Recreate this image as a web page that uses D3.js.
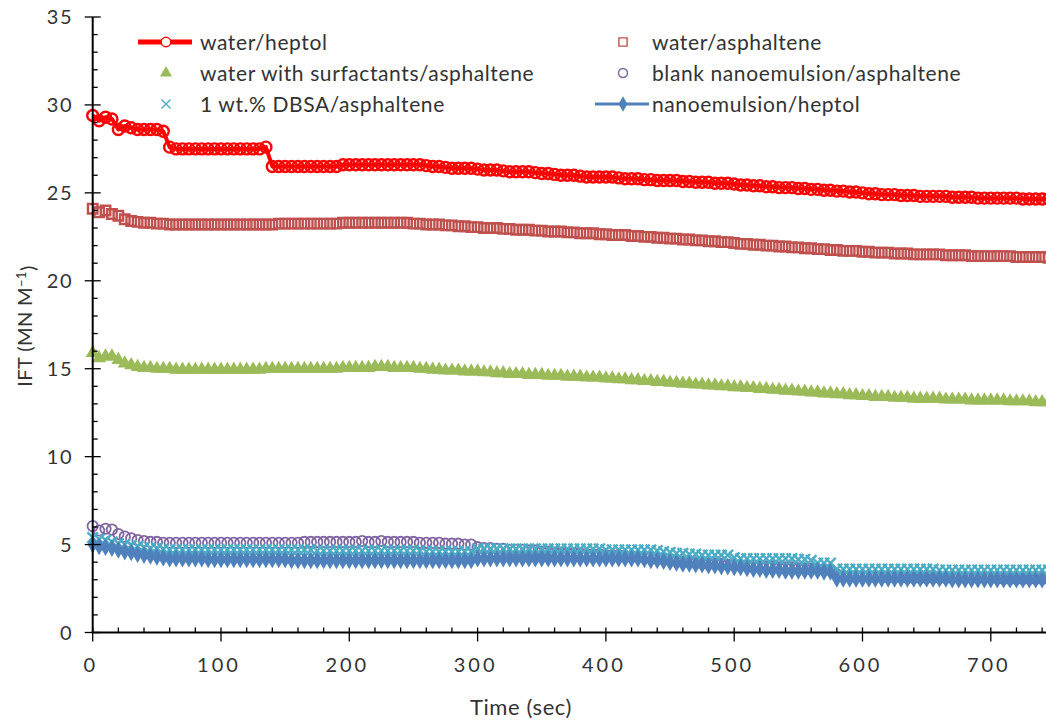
<!DOCTYPE html>
<html>
<head>
<meta charset="utf-8">
<script src="https://cdn.jsdelivr.net/npm/d3@7"></script>
<style>
  html, body { margin: 0; padding: 0; background: #fff; }
  svg { display: block; }
  text { font-family: Lato, "Open Sans", sans-serif; fill: #333; }
</style>
</head>
<body>
<svg id="chart" width="1046" height="721"></svg>
<script>
// ---------- DATA ----------
const time = [
  0,5,10,15,20,25,30,35,40,45,
  50,55,60,65,70,75,80,85,90,95,
  100,105,110,115,120,125,130,135,140,145,
  150,155,160,165,170,175,180,185,190,195,
  200,205,210,215,220,225,230,235,240,245,
  250,255,260,265,270,275,280,285,290,295,
  300,305,310,315,320,325,330,335,340,345,
  350,355,360,365,370,375,380,385,390,395,
  400,405,410,415,420,425,430,435,440,445,
  450,455,460,465,470,475,480,485,490,495,
  500,505,510,515,520,525,530,535,540,545,
  550,555,560,565,570,575,580,585,590,595,
  600,605,610,615,620,625,630,635,640,645,
  650,655,660,665,670,675,680,685,690,695,
  700,705,710,715,720,725,730,735,740,745
];

const waterHeptol = [
  29.4,29.1,29.3,29.2,28.6,28.8,28.7,28.6,28.6,28.6,
  28.6,28.5,27.6,27.5,27.5,27.5,27.5,27.5,27.5,27.5,
  27.5,27.5,27.5,27.5,27.5,27.5,27.5,27.6,26.5,26.5,
  26.5,26.5,26.5,26.5,26.5,26.5,26.5,26.5,26.5,26.6,
  26.6,26.6,26.6,26.6,26.6,26.6,26.6,26.6,26.6,26.6,
  26.6,26.6,26.55,26.5,26.5,26.45,26.4,26.4,26.4,26.4,
  26.35,26.3,26.3,26.3,26.25,26.2,26.2,26.2,26.2,26.15,
  26.1,26.1,26.05,26.0,26.0,26.0,25.95,25.9,25.9,25.9,
  25.9,25.9,25.85,25.8,25.8,25.8,25.75,25.75,25.7,25.7,
  25.7,25.7,25.65,25.65,25.6,25.6,25.6,25.55,25.55,25.55,
  25.5,25.45,25.45,25.4,25.4,25.35,25.35,25.3,25.3,25.3,
  25.25,25.25,25.2,25.2,25.15,25.15,25.1,25.1,25.05,25.05,
  25.0,24.95,24.95,24.9,24.9,24.9,24.85,24.85,24.85,24.8,
  24.8,24.8,24.8,24.8,24.75,24.75,24.75,24.75,24.7,24.7,
  24.7,24.7,24.7,24.7,24.7,24.65,24.65,24.65,24.65,24.65
];

const waterAsphaltene = [
  24.1,23.9,24.0,23.8,23.7,23.5,23.4,23.35,23.3,23.3,
  23.25,23.25,23.2,23.2,23.2,23.2,23.2,23.2,23.2,23.2,
  23.2,23.2,23.2,23.2,23.2,23.2,23.2,23.2,23.2,23.25,
  23.25,23.25,23.25,23.25,23.25,23.25,23.25,23.25,23.25,23.3,
  23.3,23.3,23.3,23.3,23.3,23.3,23.3,23.3,23.3,23.3,
  23.25,23.25,23.2,23.2,23.2,23.15,23.15,23.1,23.1,23.05,
  23.05,23.0,23.0,23.0,22.95,22.95,22.9,22.9,22.9,22.85,
  22.85,22.8,22.8,22.8,22.75,22.75,22.7,22.7,22.7,22.65,
  22.65,22.6,22.6,22.6,22.55,22.55,22.5,22.5,22.45,22.45,
  22.4,22.4,22.35,22.35,22.3,22.3,22.25,22.25,22.2,22.2,
  22.15,22.1,22.1,22.05,22.05,22.0,22.0,21.95,21.95,21.9,
  21.9,21.85,21.85,21.8,21.8,21.75,21.75,21.7,21.7,21.7,
  21.65,21.65,21.6,21.6,21.6,21.55,21.55,21.55,21.5,21.5,
  21.5,21.5,21.5,21.45,21.45,21.45,21.45,21.4,21.4,21.4,
  21.4,21.4,21.4,21.4,21.35,21.35,21.35,21.35,21.35,21.3
];

const surfactantAsphaltene = [
  15.9,15.6,15.7,15.7,15.5,15.3,15.2,15.1,15.05,15.05,
  15.0,15.0,15.0,14.95,14.95,14.95,14.95,14.95,14.95,14.95,
  14.95,14.95,14.95,14.95,14.95,14.95,14.95,15.0,15.0,15.0,
  15.0,15.0,15.0,15.0,15.0,15.0,15.0,15.0,15.0,15.05,
  15.05,15.05,15.05,15.05,15.1,15.1,15.1,15.05,15.05,15.05,
  15.05,15.0,15.0,14.95,14.95,14.9,14.9,14.9,14.85,14.85,
  14.85,14.8,14.8,14.75,14.75,14.7,14.7,14.7,14.65,14.65,
  14.65,14.6,14.6,14.6,14.55,14.55,14.55,14.5,14.5,14.5,
  14.45,14.45,14.4,14.4,14.35,14.35,14.3,14.3,14.25,14.25,
  14.2,14.2,14.15,14.15,14.1,14.1,14.05,14.05,14.0,14.0,
  13.95,13.95,13.9,13.9,13.85,13.85,13.8,13.8,13.75,13.75,
  13.7,13.7,13.65,13.65,13.6,13.6,13.55,13.55,13.5,13.5,
  13.45,13.45,13.4,13.4,13.4,13.35,13.35,13.35,13.3,13.3,
  13.3,13.3,13.3,13.25,13.25,13.25,13.25,13.2,13.2,13.2,
  13.2,13.2,13.2,13.15,13.15,13.15,13.15,13.1,13.1,13.1
];

const blankNanoAsphaltene = [
  6.05,5.8,5.9,5.85,5.6,5.45,5.35,5.25,5.2,5.15,
  5.15,5.1,5.1,5.1,5.1,5.1,5.1,5.1,5.1,5.1,
  5.1,5.1,5.1,5.1,5.1,5.1,5.1,5.1,5.1,5.1,
  5.1,5.1,5.1,5.15,5.15,5.15,5.15,5.15,5.15,5.15,
  5.15,5.15,5.2,5.15,5.15,5.2,5.15,5.15,5.15,5.15,
  5.15,5.1,5.1,5.1,5.1,5.05,5.05,5.05,5.0,5.0,
  4.85,4.8,4.8,4.75,4.75,4.7,4.7,4.7,4.65,4.65,
  4.6,4.6,4.55,4.55,4.5,4.5,4.5,4.45,4.45,4.45,
  4.4,4.4,4.4,4.35,4.35,4.3,4.3,4.25,4.2,4.15,
  4.1,4.05,4.0,4.0,3.95,3.95,3.9,3.9,3.9,3.85,
  3.85,3.8,3.8,3.8,3.75,3.75,3.75,3.7,3.7,3.7,
  3.65,3.65,3.6,3.6,3.6,3.55,3.3,3.2,3.2,3.2,
  3.2,3.2,3.15,3.15,3.15,3.15,3.15,3.1,3.1,3.1,
  3.1,3.1,3.1,3.1,3.1,3.1,3.1,3.1,3.1,3.1,
  3.1,3.1,3.05,3.05,3.05,3.05,3.05,3.05,3.05,3.05
];

const dbsaAsphaltene = [
  5.4,5.3,5.25,5.15,5.05,5.0,4.95,4.9,4.85,4.8,
  4.8,4.75,4.7,4.7,4.7,4.7,4.7,4.7,4.7,4.7,
  4.7,4.7,4.7,4.7,4.7,4.7,4.7,4.7,4.7,4.7,
  4.7,4.7,4.7,4.7,4.7,4.65,4.65,4.65,4.65,4.65,
  4.65,4.65,4.65,4.65,4.65,4.65,4.65,4.65,4.65,4.65,
  4.65,4.65,4.6,4.6,4.6,4.6,4.6,4.6,4.6,4.6,
  4.75,4.75,4.75,4.75,4.75,4.75,4.75,4.75,4.75,4.75,
  4.75,4.75,4.75,4.75,4.75,4.75,4.75,4.75,4.75,4.75,
  4.7,4.7,4.7,4.7,4.7,4.7,4.7,4.7,4.65,4.6,
  4.55,4.5,4.5,4.45,4.45,4.4,4.4,4.4,4.4,4.4,
  4.25,4.2,4.2,4.2,4.2,4.2,4.2,4.2,4.2,4.2,
  4.15,4.15,4.1,3.95,3.95,3.95,3.6,3.6,3.6,3.6,
  3.6,3.6,3.6,3.6,3.6,3.6,3.6,3.6,3.6,3.6,
  3.6,3.6,3.55,3.55,3.55,3.55,3.55,3.55,3.55,3.55,
  3.55,3.55,3.55,3.55,3.55,3.55,3.55,3.55,3.55,3.55
];

const nanoHeptol = [
  5.0,4.9,4.85,4.8,4.7,4.6,4.55,4.45,4.4,4.35,
  4.3,4.25,4.2,4.2,4.2,4.2,4.2,4.2,4.15,4.15,
  4.15,4.15,4.15,4.15,4.15,4.15,4.15,4.15,4.15,4.15,
  4.15,4.1,4.1,4.1,4.1,4.1,4.1,4.1,4.1,4.1,
  4.1,4.1,4.1,4.1,4.1,4.1,4.1,4.1,4.1,4.1,
  4.1,4.1,4.1,4.1,4.1,4.1,4.1,4.1,4.1,4.1,
  4.2,4.2,4.2,4.2,4.2,4.2,4.2,4.2,4.2,4.2,
  4.2,4.2,4.2,4.2,4.2,4.2,4.2,4.2,4.2,4.2,
  4.2,4.2,4.2,4.2,4.2,4.2,4.15,4.1,4.1,4.05,
  4.0,3.95,3.9,3.9,3.85,3.85,3.8,3.8,3.75,3.75,
  3.7,3.7,3.65,3.6,3.6,3.55,3.55,3.55,3.5,3.5,
  3.5,3.5,3.5,3.5,3.45,3.45,3.05,3.05,3.05,3.05,
  3.05,3.05,3.05,3.05,3.05,3.05,3.05,3.05,3.05,3.05,
  3.05,3.05,3.05,3.05,3.0,3.0,3.0,3.0,3.0,3.0,
  3.0,3.0,3.0,3.0,3.0,3.0,3.0,3.0,3.0,3.0
];

const seriesNames = [
  "water/heptol",
  "water/asphaltene",
  "water with surfactants/asphaltene",
  "blank nanoemulsion/asphaltene",
  "1 wt.% DBSA/asphaltene",
  "nanoemulsion/heptol"
];
const xTicks = [0,100,200,300,400,500,600,700];
const yTicks = [0,5,10,15,20,25,30,35];
const xTitle = "Time (sec)";

// ---------- STYLE ----------
const seriesDefs = [
  {name: seriesNames[0], values: waterHeptol, color: "#FF0000", shape: "circle", fill: "none", size: 95, sw: 2.4, line: 4},
  {name: seriesNames[1], values: waterAsphaltene, color: "#C0504D", shape: "square", fill: "none", size: 90, sw: 2.4, line: 0},
  {name: seriesNames[2], values: surfactantAsphaltene, color: "#9BBB59", shape: "triangle", fill: "#9BBB59", size: 85, sw: 0, line: 0},
  {name: seriesNames[3], values: blankNanoAsphaltene, color: "#8064A2", shape: "circle", fill: "none", size: 85, sw: 1.8, line: 0},
  {name: seriesNames[4], values: dbsaAsphaltene, color: "#4BACC6", shape: "x", fill: "none", size: 75, sw: 2.4, line: 0},
  {name: seriesNames[5], values: nanoHeptol, color: "#4F81BD", shape: "diamond", fill: "#4F81BD", size: 90, sw: 0, line: 3}
];
const shapeMap = {circle: d3.symbolCircle, square: d3.symbolSquare, triangle: d3.symbolTriangle, diamond: d3.symbolDiamond, x: d3.symbolX};

const W = 1046, H = 721;
const x0 = 92.7, xPer100 = 128.3;
const x = d3.scaleLinear().domain([0, 750]).range([x0, x0 + xPer100 * 7.5]);
const y = d3.scaleLinear().domain([0, 35]).range([632.5, 17]);

const svg = d3.select("#chart");
svg.append("rect").attr("width", W).attr("height", H).attr("fill", "#fff");

const plot = svg.append("g");

// series
seriesDefs.forEach(s => {
  const pts = time.map((t, i) => [t, s.values[i]]);
  if (s.line) {
    plot.append("path")
      .attr("d", d3.line().x(d => x(d[0])).y(d => y(d[1]))(pts))
      .attr("fill", "none").attr("stroke", s.color).attr("stroke-width", s.line)
      .attr("stroke-linejoin", "round");
  }
  const sym = d3.symbol().type(shapeMap[s.shape]).size(s.size);
  plot.append("g").selectAll("path").data(pts).join("path")
    .attr("transform", d => `translate(${x(d[0])},${y(d[1])})`)
    .attr("d", sym)
    .attr("fill", s.fill)
    .attr("stroke", s.sw ? s.color : "none")
    .attr("stroke-width", s.sw);
});

// axes
const axG = svg.append("g").attr("stroke", "#000");
axG.append("line").attr("x1", x0).attr("x2", x0).attr("y1", y(35)).attr("y2", y(0)).attr("stroke-width", 2);
axG.append("line").attr("x1", x0 - 1).attr("x2", W).attr("y1", y(0)).attr("y2", y(0)).attr("stroke-width", 2);
d3.range(0, 36, 1).forEach(v => {
  const major = v % 5 === 0;
  axG.append("line").attr("x1", major ? x0 - 8 : x0).attr("x2", x0 + (major ? 8 : 5))
    .attr("y1", y(v)).attr("y2", y(v)).attr("stroke-width", 1.3);
});
d3.range(0, 760, 20).forEach(v => {
  const major = v % 100 === 0;
  axG.append("line").attr("x1", x(v)).attr("x2", x(v))
    .attr("y1", y(0) - 5).attr("y2", y(0) + (major ? 9 : 0)).attr("stroke-width", 1.3);
});

svg.append("g").selectAll("text").data(yTicks).join("text")
  .attr("x", 73).attr("y", d => y(d)).attr("dy", "0.36em")
  .attr("text-anchor", "end").attr("font-size", 20).attr("letter-spacing", 1.5)
  .text(d => d);
svg.append("g").selectAll("text").data(xTicks).join("text")
  .attr("x", d => x(d) - 2).attr("y", 665).attr("dy", "0.36em")
  .attr("text-anchor", "middle").attr("font-size", 20).attr("letter-spacing", 3)
  .text(d => d);

svg.append("text").attr("x", 521).attr("y", 707).attr("dy", "0.36em")
  .attr("text-anchor", "middle").attr("font-size", 22).attr("letter-spacing", 0.6).text(xTitle);

const yl = svg.append("text").attr("transform", "translate(25,326) rotate(-90)")
  .attr("text-anchor", "middle").attr("dy", "0.36em").attr("font-size", 20).attr("letter-spacing", 0.4);
yl.append("tspan").text("IFT (MN M");
yl.append("tspan").attr("dy", "-0.45em").attr("font-size", 13).text("−1");
yl.append("tspan").attr("dy", "0.45em").text(")");

// legend
const legendPos = [
  {lx: 138, tx: 200, y: 42}, {lx: 595, tx: 652, y: 42},
  {lx: 138, tx: 200, y: 73}, {lx: 595, tx: 652, y: 73},
  {lx: 138, tx: 200, y: 104}, {lx: 595, tx: 652, y: 104}
];
seriesDefs.forEach((s, i) => {
  const p = legendPos[i];
  const g = svg.append("g");
  const cx = p.lx + 28;
  if (s.line) {
    g.append("line").attr("x1", p.lx).attr("x2", p.lx + 54).attr("y1", p.y).attr("y2", p.y)
      .attr("stroke", s.color).attr("stroke-width", s.line + (i === 0 ? 1 : 0));
  }
  g.append("path").attr("transform", `translate(${cx},${p.y})`)
    .attr("d", d3.symbol().type(shapeMap[s.shape]).size(s.size * 0.75)())
    .attr("fill", s.fill === "none" ? (s.line ? "#fff" : "none") : s.fill)
    .attr("stroke", s.sw ? s.color : "none").attr("stroke-width", s.sw ? 1.4 : 0);
  g.append("text").attr("x", p.tx).attr("y", p.y).attr("dy", "0.36em")
    .attr("font-size", 21).attr("letter-spacing", 0.6).text(s.name);
});
</script>
</body>
</html>
